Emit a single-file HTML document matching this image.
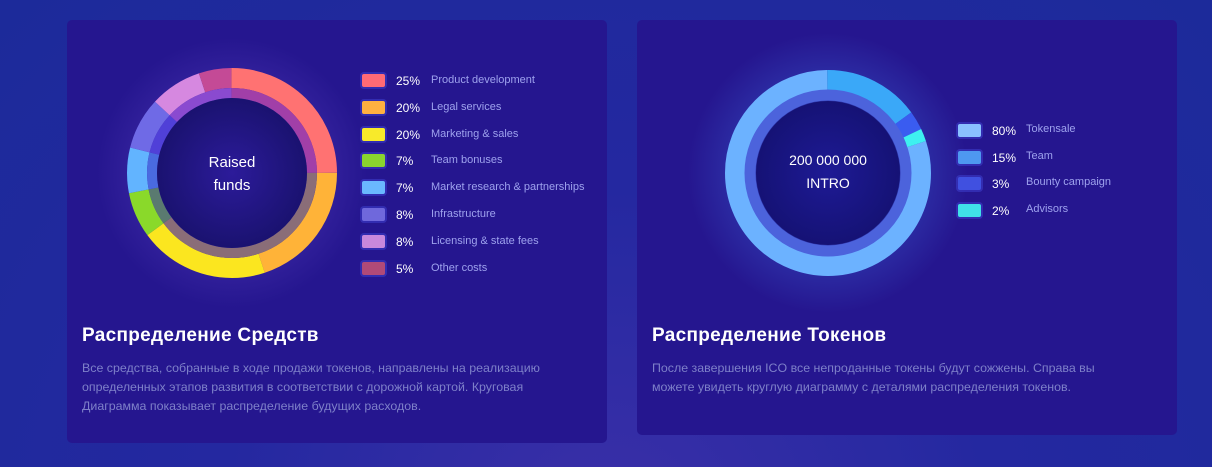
<!DOCTYPE html>
<html><head><meta charset="utf-8"><style>
body{margin:0;width:1212px;height:467px;overflow:hidden;background:radial-gradient(ellipse at 50% 110%,#3a2fa8 0%,#2428a0 45%,#1c2a9a 100%);font-family:"Liberation Sans",sans-serif;position:relative}
.card{position:absolute;background:#25168f;border-radius:5px}
h2{position:absolute;margin:0;color:#fff;font-size:19px;font-weight:bold;letter-spacing:0.3px}
p{position:absolute;margin:0;color:#7e80c9;font-size:12.4px;line-height:19px}
.lg{position:absolute;font-size:11px;color:#9ea2ee}
.sw{position:absolute;width:23px;height:13px;border-radius:2px;box-shadow:0 0 0 2px rgba(60,60,200,.6)}
.pc{position:absolute;color:#fff;font-size:12px}
svg{position:absolute;left:0;top:0}
</style></head><body>
<div class="card" style="left:67px;top:20px;width:540px;height:423px"></div>
<div class="card" style="left:637px;top:20px;width:540px;height:415px"></div>
<svg width="1212" height="467">
<defs>
<radialGradient id="g1"><stop offset="0" stop-color="#7a5ae0" stop-opacity=".55"/><stop offset="1" stop-color="#7a5ae0" stop-opacity="0"/></radialGradient>
<radialGradient id="g2"><stop offset="0" stop-color="#4a8cff" stop-opacity=".6"/><stop offset="1" stop-color="#4a8cff" stop-opacity="0"/></radialGradient>
<radialGradient id="c1"><stop offset="0" stop-color="#2c1b9a"/><stop offset="1" stop-color="#1a1270"/></radialGradient>
<radialGradient id="c2"><stop offset="0" stop-color="#1e1a95"/><stop offset="1" stop-color="#151275"/></radialGradient>
</defs>
<circle cx="232" cy="173" r="135" fill="url(#g1)"/>
<circle cx="828" cy="173" r="140" fill="url(#g2)"/>
<g transform="rotate(-90 232 173)" fill="none">
<circle cx="232" cy="173" r="95" stroke-width="20" pathLength="100" stroke="#ff7272" stroke-dasharray="25 75" stroke-dashoffset="0"/>
<circle cx="232" cy="173" r="95" stroke-width="20" pathLength="100" stroke="#ffb338" stroke-dasharray="20 80" stroke-dashoffset="-25"/>
<circle cx="232" cy="173" r="95" stroke-width="20" pathLength="100" stroke="#fbe61f" stroke-dasharray="20 80" stroke-dashoffset="-45"/>
<circle cx="232" cy="173" r="95" stroke-width="20" pathLength="100" stroke="#8ad92a" stroke-dasharray="7 93" stroke-dashoffset="-65"/>
<circle cx="232" cy="173" r="95" stroke-width="20" pathLength="100" stroke="#62b4ff" stroke-dasharray="7 93" stroke-dashoffset="-72"/>
<circle cx="232" cy="173" r="95" stroke-width="20" pathLength="100" stroke="#6f6ae6" stroke-dasharray="8 92" stroke-dashoffset="-79"/>
<circle cx="232" cy="173" r="95" stroke-width="20" pathLength="100" stroke="#d688e0" stroke-dasharray="8 92" stroke-dashoffset="-87"/>
<circle cx="232" cy="173" r="95" stroke-width="20" pathLength="100" stroke="#c44a96" stroke-dasharray="5 95" stroke-dashoffset="-95"/>
<circle cx="232" cy="173" r="80" stroke-width="10" pathLength="100" stroke="#a13fa8" stroke-dasharray="25 75"/>
<circle cx="232" cy="173" r="80" stroke-width="10" pathLength="100" stroke="#8a6d78" stroke-dasharray="40 60" stroke-dashoffset="-25"/>
<circle cx="232" cy="173" r="80" stroke-width="10" pathLength="100" stroke="#5a7a70" stroke-dasharray="7 93" stroke-dashoffset="-65"/>
<circle cx="232" cy="173" r="80" stroke-width="10" pathLength="100" stroke="#4a6ae0" stroke-dasharray="7 93" stroke-dashoffset="-72"/>
<circle cx="232" cy="173" r="80" stroke-width="10" pathLength="100" stroke="#5040d8" stroke-dasharray="8 92" stroke-dashoffset="-79"/>
<circle cx="232" cy="173" r="80" stroke-width="10" pathLength="100" stroke="#8a4ad0" stroke-dasharray="13 87" stroke-dashoffset="-87"/>
</g>
<circle cx="232" cy="173" r="75" fill="url(#c1)"/>
<g transform="rotate(-90 828 173)" fill="none">
<circle cx="828" cy="173" r="93" stroke-width="20" pathLength="100" stroke="#6cb2ff" stroke-dasharray="80 20" stroke-dashoffset="-20"/>
<circle cx="828" cy="173" r="93" stroke-width="20" pathLength="100" stroke="#3aa8f8" stroke-dasharray="15 85"/>
<circle cx="828" cy="173" r="93" stroke-width="20" pathLength="100" stroke="#3a5cf0" stroke-dasharray="3 97" stroke-dashoffset="-15"/>
<circle cx="828" cy="173" r="93" stroke-width="20" pathLength="100" stroke="#3ef0f0" stroke-dasharray="2 98" stroke-dashoffset="-18"/>
<circle cx="828" cy="173" r="78" stroke-width="11" stroke="#4c63dc"/>
</g>
<circle cx="828" cy="173" r="72" fill="url(#c2)"/>
<text x="232" y="167" fill="#fff" font-size="15" text-anchor="middle" font-family="Liberation Sans">Raised</text>
<text x="232" y="190" fill="#fff" font-size="15" text-anchor="middle" font-family="Liberation Sans">funds</text>
<text x="828" y="165" fill="#fff" font-size="14" text-anchor="middle" font-family="Liberation Sans">200 000 000</text>
<text x="828" y="188" fill="#fff" font-size="14" text-anchor="middle" font-family="Liberation Sans">INTRO</text>
</svg>
<!-- left legend -->
<div class="sw" style="left:362px;top:74px;background:#ff6a75"></div><div class="pc" style="left:396px;top:74px">25%</div><div class="lg" style="left:431px;top:74px">Product development</div>
<div class="sw" style="left:362px;top:101px;background:#ffb040"></div><div class="pc" style="left:396px;top:101px">20%</div><div class="lg" style="left:431px;top:101px">Legal services</div>
<div class="sw" style="left:362px;top:128px;background:#f8ea2a"></div><div class="pc" style="left:396px;top:128px">20%</div><div class="lg" style="left:431px;top:128px">Marketing &amp; sales</div>
<div class="sw" style="left:362px;top:154px;background:#8ad42e"></div><div class="pc" style="left:396px;top:154px">7%</div><div class="lg" style="left:431px;top:154px">Team bonuses</div>
<div class="sw" style="left:362px;top:181px;background:#6ab8ff"></div><div class="pc" style="left:396px;top:181px">7%</div><div class="lg" style="left:431px;top:181px">Market research &amp; partnerships</div>
<div class="sw" style="left:362px;top:208px;background:#6f68dc"></div><div class="pc" style="left:396px;top:208px">8%</div><div class="lg" style="left:431px;top:208px">Infrastructure</div>
<div class="sw" style="left:362px;top:235px;background:#c888dc"></div><div class="pc" style="left:396px;top:235px">8%</div><div class="lg" style="left:431px;top:235px">Licensing &amp; state fees</div>
<div class="sw" style="left:362px;top:262px;background:#b04a78"></div><div class="pc" style="left:396px;top:262px">5%</div><div class="lg" style="left:431px;top:262px">Other costs</div>
<!-- right legend -->
<div class="sw" style="left:958px;top:124px;background:#8ac0ff"></div><div class="pc" style="left:992px;top:124px">80%</div><div class="lg" style="left:1026px;top:123px">Tokensale</div>
<div class="sw" style="left:958px;top:151px;background:#4e98f0"></div><div class="pc" style="left:992px;top:151px">15%</div><div class="lg" style="left:1026px;top:150px">Team</div>
<div class="sw" style="left:958px;top:177px;background:#4050e0"></div><div class="pc" style="left:992px;top:177px">3%</div><div class="lg" style="left:1026px;top:176px">Bounty campaign</div>
<div class="sw" style="left:958px;top:204px;background:#40e0e8"></div><div class="pc" style="left:992px;top:204px">2%</div><div class="lg" style="left:1026px;top:203px">Advisors</div>
<h2 style="left:82px;top:325px">Распределение Средств</h2>
<p style="left:82px;top:359px;width:495px">Все средства, собранные в ходе продажи токенов, направлены на реализацию определенных этапов развития в соответствии с дорожной картой. Круговая Диаграмма показывает распределение будущих расходов.</p>
<h2 style="left:652px;top:325px">Распределение Токенов</h2>
<p style="left:652px;top:359px;width:480px">После завершения ICO все непроданные токены будут сожжены. Справа вы можете увидеть круглую диаграмму с деталями распределения токенов.</p>
</body></html>
